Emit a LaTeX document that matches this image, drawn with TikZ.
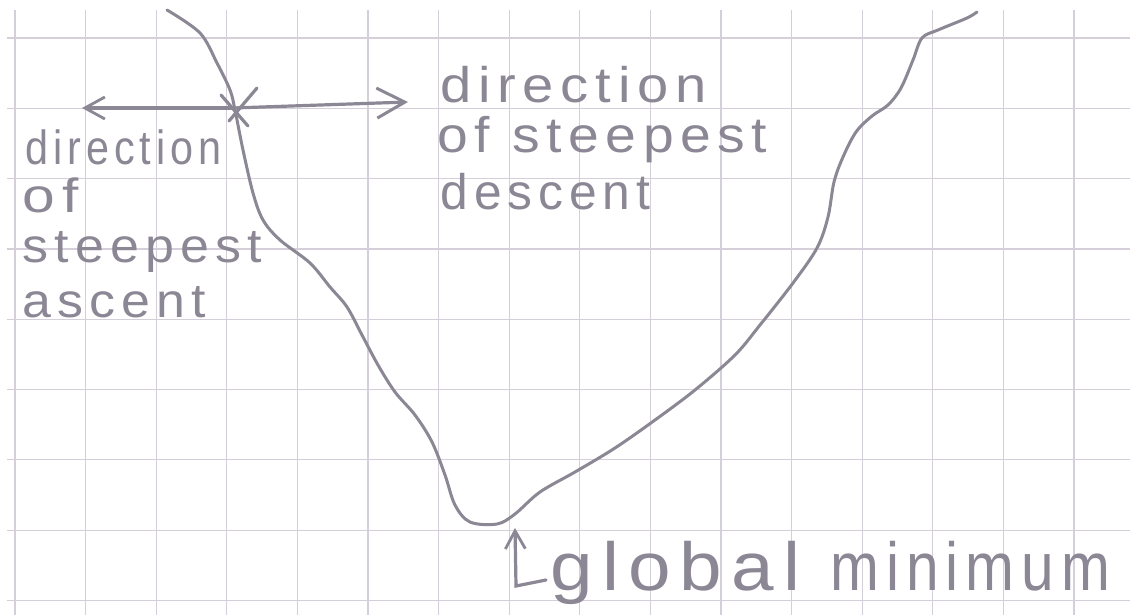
\documentclass[tikz,border=0pt]{standalone}
\usepackage{fontspec}
\setmainfont{Liberation Sans}
\newfontfamily\handwide[LetterSpace=12]{Liberation Sans}
\usetikzlibrary{arrows.meta}
\definecolor{pencil}{HTML}{8C8794}
\definecolor{gridc}{HTML}{D4CFD8}
\newcommand\hw[2]{\resizebox{#1}{\height}{#2}}
\begin{document}
\begin{tikzpicture}[x=0.5pt,y=-0.5pt,
  lbl/.style={anchor=base west, inner sep=0pt, text=pencil},
  curve/.style={draw=pencil, line width=1.5pt, line cap=round, line join=round},
  arr/.style={draw=pencil, line width=1.6pt, line cap=round},
  gridline/.style={draw=gridc, line width=0.6pt}]
\fill[white] (0,0) rectangle (1136,615);
\useasboundingbox (0,0) rectangle (1136,615);
% grid paper
\foreach \i in {0,...,15} \draw[gridline] ({15+70.6*\i},10) -- ({15+70.6*\i},615);
\foreach \j in {0,...,8} \draw[gridline] (7,{38+70.3*\j}) -- (1130,{38+70.3*\j});
% curve
\draw[curve] plot[smooth, tension=0.55] coordinates {
 (167,10) (200,33) (217,63) (230,90) (235,110) (243,150) (253,193) (263,220)
 (280,240) (310,263) (330,287) (347,307) (362,335) (378,365) (395,392) (415,415)
 (432,442) (445,475) (455,505) (470,522) (497,524) (515,514) (540,492) (575,472)
 (615,448) (655,420) (695,390) (735,355) (760,325) (793,283) (817,248) (828,217)
 (834,182) (843,157) (856,132) (872,116) (888,105) (901,88) (913,60) (922,38)
 (938,30) (967,18) (977,12)};
% cross mark and arrows
\coordinate (X) at (233,108);
\coordinate (L) at (82,108);
\coordinate (R) at (408,102);
\draw[arr] (221,95) -- (248,126);
\draw[arr] (257,88) -- (229,121);
\draw[arr, -{Straight Barb[length=10pt,width=11pt,line width=1.4pt]}] (X) -- (L);
\draw[arr, -{Straight Barb[length=14pt,width=15pt,line width=1.5pt]}] (X) -- (R);
% labels
\node[lbl, font=\handwide\fontsize{24}{26}\selectfont] (asc1) at (25,165) {\hw{98pt}{direction}};
\node[lbl, font=\handwide\fontsize{24}{26}\selectfont] (asc2) at (22,213) {\hw{28pt}{of}};
\node[lbl, font=\handwide\fontsize{24}{26}\selectfont] (asc3) at (22,263) {\hw{120pt}{steepest}};
\node[lbl, font=\handwide\fontsize{24}{26}\selectfont] (asc4) at (22,317) {\hw{92pt}{ascent}};
\node[lbl, font=\handwide\fontsize{25}{27}\selectfont] (des1) at (440,103) {\hw{133pt}{direction}};
\node[lbl, font=\handwide\fontsize{25}{27}\selectfont] (des2) at (437,153) {\hw{165pt}{of steepest}};
\node[lbl, font=\handwide\fontsize{25}{27}\selectfont] (des3) at (440,210) {\hw{105pt}{descent}};
% global minimum
\coordinate (M) at (515,528);
\coordinate (Mfoot) at (546,580);
\draw[arr, -{Straight Barb[length=9pt,width=10pt,line width=1.4pt]}] (Mfoot) -- (516,586) -- (M);
\node[lbl, font=\handwide\fontsize{34}{36}\selectfont] (glob) at (550,590) {\hw{125pt}{global}};
\node[lbl, font=\handwide\fontsize{34}{36}\selectfont] (mini) at (830,590) {\hw{140pt}{minimum}};
\end{tikzpicture}
\end{document}
